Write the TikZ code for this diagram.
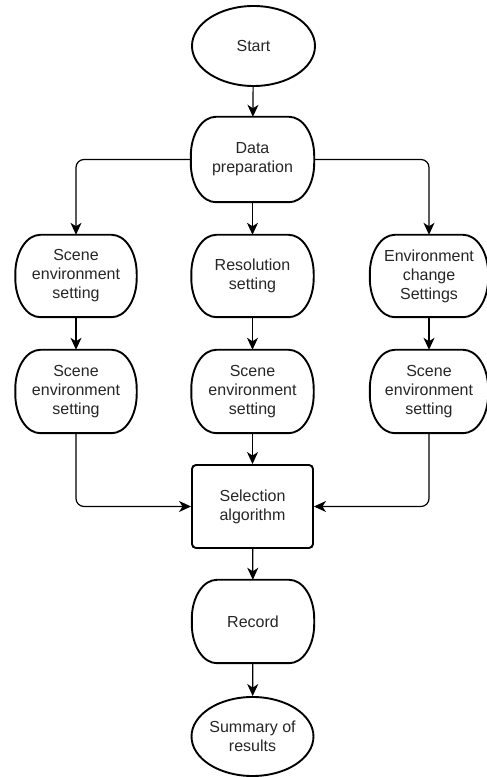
\documentclass[tikz,border=0pt]{standalone}
\usepackage{fontspec}
\setmainfont{Liberation Sans}
\usetikzlibrary{shapes.geometric,arrows.meta,calc}

\tikzset{
  x=1pt, y=1pt,
  label text/.style={font=\fontsize{16}{19}\selectfont, align=center, inner sep=0pt, text=black!85},
  stadium/.style={label text, minimum width=#1, minimum height=83},
  stadium/.default=122,
  oval/.style={label text, ellipse, draw, line width=1.9pt, fill=white, minimum width=123, minimum height=80},
  procbox/.style={label text, draw, line width=1.9pt, rounded corners=4pt, fill=white, minimum width=121, minimum height=83},
  border/.style={line width=1.9pt, fill=white},
  conn/.style={line width=1.2pt, -{Stealth[length=12pt,width=11pt,inset=3.5pt]}, rounded corners=8pt},
}

\begin{document}
\begin{tikzpicture}
  \useasboundingbox[fill=white] (0,0) rectangle (487,777);

  % node placement (terminator outlines are drawn below)
  \node[oval] (start) at (253.5,731) {Start};
  \node[stadium=123, minimum height=85] (prep) at (252.5,617.5) {};

  \node[stadium=121, minimum height=82] (L1) at (76,501) {};
  \node[stadium=122, minimum height=82] (M1) at (252.5,501) {};
  \node[stadium=118, minimum height=82] (R1) at (429,501) {};

  \node[stadium=121] (L2) at (76,385.5) {};
  \node[stadium=122] (M2) at (252.5,385.5) {};
  \node[stadium=118] (R2) at (429,385.5) {};

  \node[procbox] (sel) at (252.5,270.5) {Selection\\algorithm};
  \node[stadium=122] (rec) at (253,155.5) {};
  \node[oval, minimum width=121, minimum height=79] (sum) at (252.5,40.5) {Summary of\\results};

  % terminator outlines with elliptical corners
  \foreach \n in {prep,L1,M1,R1,L2,M2,R2,rec} {
    \draw[border]
      ($(\n.north west)+(25,0)$) -- ($(\n.north east)+(-25,0)$)
      arc[start angle=90, end angle=0, x radius=25pt, y radius=39pt]
      -- ($(\n.south east)+(0,39)$)
      arc[start angle=0, end angle=-90, x radius=25pt, y radius=39pt]
      -- ($(\n.south west)+(25,0)$)
      arc[start angle=270, end angle=180, x radius=25pt, y radius=39pt]
      -- ($(\n.north west)+(0,-39)$)
      arc[start angle=180, end angle=90, x radius=25pt, y radius=39pt]
      -- cycle;
  }

  % texts of the terminators
  \node[label text] at (prep) {Data\\preparation};
  \node[label text] at (L1) {Scene\\environment\\setting};
  \node[label text] at (M1) {Resolution\\setting};
  \node[label text] at (R1) {Environment\\change\\Settings};
  \node[label text] at (L2) {Scene\\environment\\setting};
  \node[label text] at (M2) {Scene\\environment\\setting};
  \node[label text] at (R2) {Scene\\environment\\setting};
  \node[label text] at (rec) {Record};

  % connectors
  \draw[conn] (start) -- (prep);
  \draw[conn] (prep.west) -| (L1.north);
  \draw[conn] (prep) -- (M1);
  \draw[conn] (prep.east) -| (R1.north);
  \draw[conn] (L1) -- (L2);
  \draw[conn] (M1) -- (M2);
  \draw[conn] (R1) -- (R2);
  \draw[conn] (M2) -- (sel);
  \draw[conn] (L2.south) |- (sel.west);
  \draw[conn] (R2.south) |- (sel.east);
  \draw[conn] (sel) -- (rec);
  \draw[conn] (rec) -- (sum);
\end{tikzpicture}
\end{document}
